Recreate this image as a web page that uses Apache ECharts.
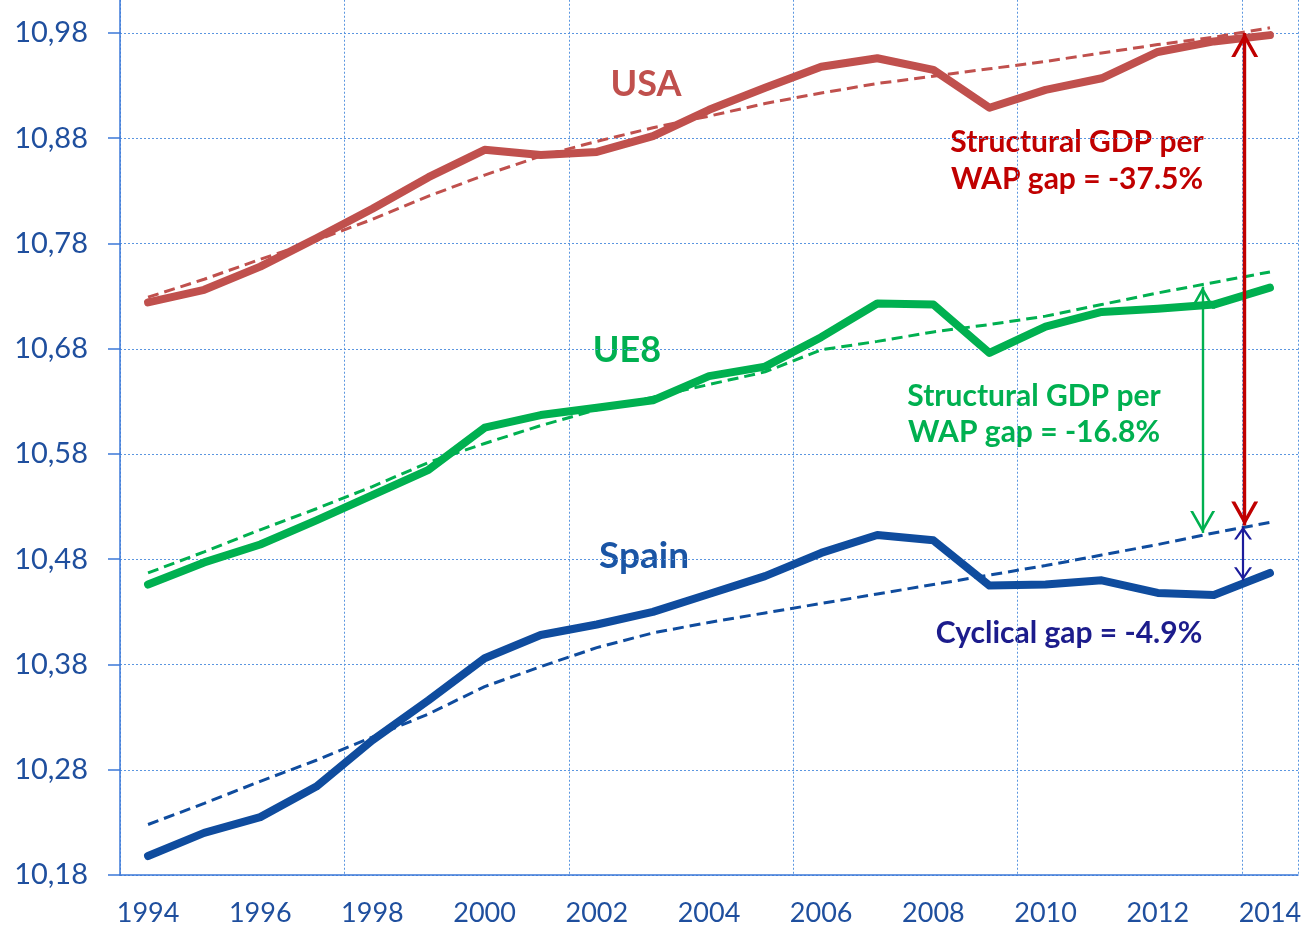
<!DOCTYPE html>
<html>
<head>
<meta charset="utf-8">
<script src="https://cdn.jsdelivr.net/npm/echarts@6/dist/echarts.min.js"></script>
<style>
  html, body { margin: 0; padding: 0; background: #fff; }
  #chart { width: 1307px; height: 928px; }
</style>
</head>
<body>
<div id="chart"></div>
<script>
// years on the x axis
var years = ['1994', '1995', '1996', '1997', '1998', '1999', '2000', '2001', '2002', '2003', '2004',
             '2005', '2006', '2007', '2008', '2009', '2010', '2011', '2012', '2013', '2014'];

// log GDP per working-age person, actual and trend
var usaGdp     = [10.724, 10.736, 10.758, 10.785, 10.813, 10.843, 10.869, 10.864, 10.867, 10.882, 10.907,
                  10.928, 10.948, 10.956, 10.945, 10.909, 10.926, 10.937, 10.962, 10.972, 10.978];
var usaTrend   = [10.729, 10.746, 10.765, 10.783, 10.803, 10.825, 10.845, 10.863, 10.877, 10.890, 10.901,
                  10.913, 10.923, 10.932, 10.939, 10.946, 10.953, 10.961, 10.969, 10.976, 10.985];
var ue8Gdp     = [10.456, 10.477, 10.494, 10.517, 10.541, 10.565, 10.605, 10.617, 10.624, 10.631, 10.654,
                  10.663, 10.691, 10.723, 10.722, 10.676, 10.701, 10.715, 10.718, 10.722, 10.738];
var ue8Trend   = [10.467, 10.487, 10.508, 10.528, 10.549, 10.572, 10.590, 10.607, 10.622, 10.634, 10.646,
                  10.658, 10.679, 10.687, 10.696, 10.703, 10.711, 10.722, 10.733, 10.743, 10.753];
var spainGdp   = [10.198, 10.220, 10.235, 10.264, 10.308, 10.346, 10.386, 10.408, 10.418, 10.430, 10.447,
                  10.464, 10.486, 10.503, 10.498, 10.455, 10.456, 10.460, 10.448, 10.446, 10.467];
var spainTrend = [10.228, 10.248, 10.269, 10.289, 10.311, 10.333, 10.359, 10.378, 10.396, 10.410, 10.420,
                  10.429, 10.438, 10.447, 10.456, 10.465, 10.474, 10.484, 10.494, 10.505, 10.515];

// gap arrows: [year position, from, to]
var usaGapArrow    = [2013.55, 10.980, 10.512];
var ue8GapArrow    = [2012.80, 10.739, 10.505];
var cyclicalArrow  = [2013.52, 10.511, 10.460];

var yMin = 10.18, yStep = 0.1;

var chart = echarts.init(document.getElementById('chart'));

function pairs(vals) {
    return vals.map(function (v, i) { return [+years[i], v]; });
}

// open "V" head, tip in the middle of a 2h x 2h box so it lands on the end point.
// the two tiny corner triangles only stretch the box.
function chevron(w, h, t) {
    var s = 2 * h, c = h, hw = w / 2, d = t * h / hw;
    return 'path://M0,0 L0.01,0 L0,0.01 Z M' + s + ',0 L' + (s - 0.01) + ',0 L' + s + ',0.01 Z ' +
        'M' + c + ',' + c + ' L' + (c + hw) + ',' + s + ' L' + (c + hw - t) + ',' + s +
        ' L' + c + ',' + (c + d) + ' L' + (c - hw + t) + ',' + s + ' L' + (c - hw) + ',' + s + ' Z';
}

function arrow(a, color, width, head) {
    var sym = chevron(head[0], head[1], head[2]);
    return {
        silent: true,
        animation: false,
        symbol: [sym, sym],
        symbolSize: 2 * head[1],
        label: { show: false },
        lineStyle: { color: color, width: width, type: 'solid' },
        data: [[{ coord: [a[0], a[1]] }, { coord: [a[0], a[2]] }]]
    };
}

function solid(name, vals, color) {
    return {
        name: name, type: 'line', xAxisIndex: 1, data: pairs(vals),
        showSymbol: false, silent: true, z: 3,
        lineStyle: { color: color, width: 8, cap: 'round', join: 'round' }
    };
}

function trend(name, vals, color, mark) {
    return {
        name: name, type: 'line', xAxisIndex: 1, data: pairs(vals),
        showSymbol: false, silent: true, z: 4,
        lineStyle: { color: color, width: 3, type: [11, 6] },
        markLine: mark
    };
}

var labelFont = 'Lato, "Open Sans", sans-serif';

option = {
    animation: false,
    grid: {
        left: 120,
        right: 9,
        top: -72.25,
        bottom: 53,
        containLabel: false,
        outerBoundsMode: 'none'
    },
    xAxis: [{
        type: 'category',
        data: years,
        boundaryGap: true,
        axisLine: { lineStyle: { color: '#3b78d8', width: 1.5 } },
        axisTick: { interval: 1, length: 8, lineStyle: { color: '#3b78d8', width: 1.5 } },
        axisLabel: {
            interval: 1, margin: 25,
            color: '#1f4f9e', fontSize: 27, fontFamily: labelFont
        },
        splitLine: {
            show: true, interval: 3,
            lineStyle: { color: '#5b96e0', width: 1, type: [2, 2] }
        }
    }, {
        type: 'value',
        min: 1993.5,
        max: 2014.5,
        show: false
    }],
    yAxis: [{
        type: 'value',
        min: yMin,
        max: 11.08,
        interval: yStep,
        axisLine: { show: true, lineStyle: { color: '#3b78d8', width: 1.5 } },
        axisTick: { show: true, length: 12, lineStyle: { color: '#3b78d8', width: 1.5 } },
        axisLabel: {
            margin: 32,
            color: '#1f4f9e', fontSize: 29, fontFamily: labelFont,
            formatter: function (v) { return v.toFixed(2).replace('.', ','); }
        },
        splitLine: { lineStyle: { color: '#5b96e0', width: 1, type: [2, 2] } }
    }],
    series: [
        solid('USA', usaGdp, '#c0504d'),
        trend('USA trend', usaTrend, '#c0504d', arrow(usaGapArrow, '#c00000', 3.4, [27, 24, 4])),
        solid('UE8', ue8Gdp, '#00b050'),
        trend('UE8 trend', ue8Trend, '#00b050', arrow(ue8GapArrow, '#00b050', 2.4, [25, 22, 3])),
        solid('Spain', spainGdp, '#0f4c9e'),
        trend('Spain trend', spainTrend, '#0f4c9e', arrow(cyclicalArrow, '#1c1c9c', 2.2, [18, 13, 2.6]))
    ],
    graphic: [
        { type: 'text', x: 646, y: 84, style: { text: 'USA', fill: '#c0504d', font: 'bold 36px ' + labelFont, textAlign: 'center', textVerticalAlign: 'middle' } },
        { type: 'text', x: 627, y: 350, style: { text: 'UE8', fill: '#00b050', font: 'bold 36px ' + labelFont, textAlign: 'center', textVerticalAlign: 'middle' } },
        { type: 'text', x: 644, y: 556, style: { text: 'Spain', fill: '#1a55a5', font: 'bold 37px ' + labelFont, textAlign: 'center', textVerticalAlign: 'middle' } },
        { type: 'text', x: 1077, y: 161, style: { text: 'Structural GDP per\nWAP gap = -37.5%', fill: '#c00000', font: 'bold 30px ' + labelFont, lineHeight: 37, textAlign: 'center', textVerticalAlign: 'middle' } },
        { type: 'text', x: 1034, y: 414, style: { text: 'Structural GDP per\nWAP gap = -16.8%', fill: '#00b050', font: 'bold 30px ' + labelFont, lineHeight: 36, textAlign: 'center', textVerticalAlign: 'middle' } },
        { type: 'text', x: 1069, y: 633, style: { text: 'Cyclical gap = -4.9%', fill: '#1c1c8c', font: 'bold 30px ' + labelFont, textAlign: 'center', textVerticalAlign: 'middle' } }
    ]
};
chart.setOption(option);
window.addEventListener('resize', function () { chart.resize(); });
</script>
</body>
</html>
